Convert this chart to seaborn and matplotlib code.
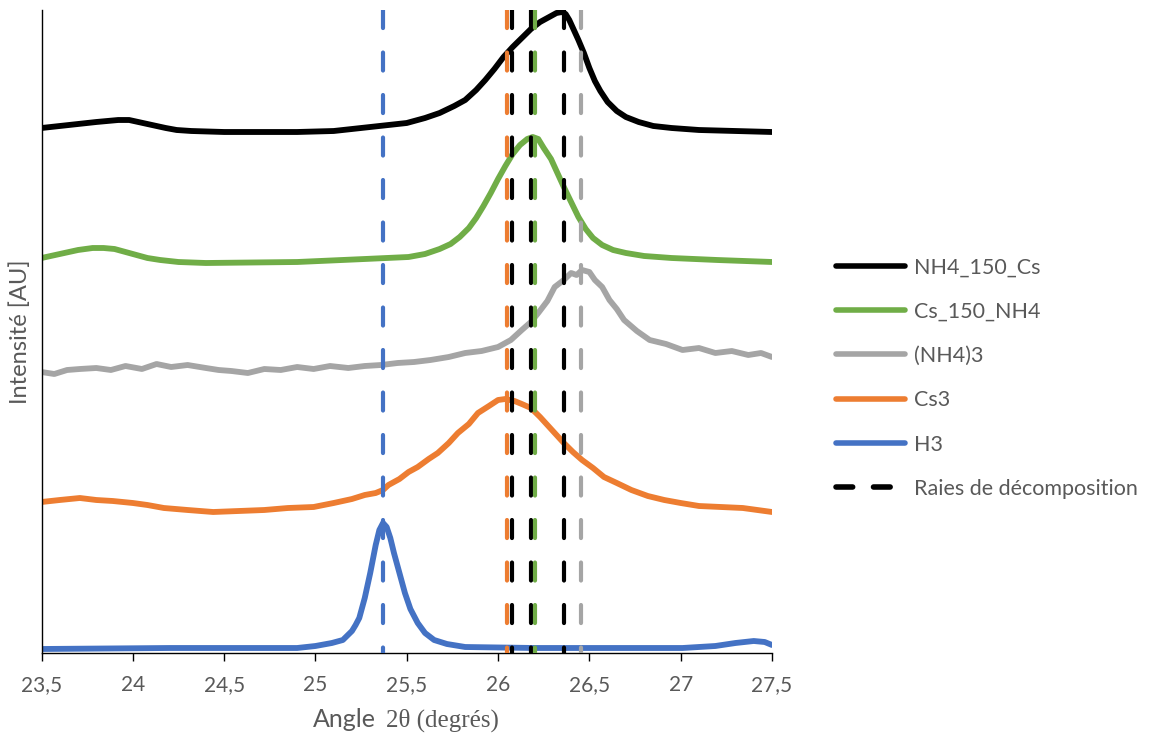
#!/usr/bin/env python3

import pandas as pd
import matplotlib.pyplot as plt
import seaborn as sns
from matplotlib.lines import Line2D

#------------------------------------------------------------------------------------
# Values (angle 2theta in degrees, intensity in arbitrary units)
#------------------------------------------------------------------------------------
ang_nh4_150_cs = [23.50, 23.65, 23.80, 23.92, 23.98, 24.03, 24.08, 24.13, 24.18, 24.24, 24.32,
                  24.50, 24.90, 25.10, 25.25, 25.40, 25.50, 25.60, 25.68, 25.76, 25.82, 25.88,
                  25.93, 25.98, 26.03, 26.08, 26.13, 26.18, 26.23, 26.28, 26.32, 26.35, 26.37,
                  26.39, 26.41, 26.44, 26.47, 26.50, 26.53, 26.56, 26.60, 26.65, 26.70, 26.77,
                  26.85, 26.95, 27.10, 27.30, 27.50]
int_nh4_150_cs = [525, 528, 531, 533, 533, 531, 529, 527, 525, 523, 522,
                  521, 521, 522, 525, 528, 530, 535, 540, 547, 553, 563,
                  573, 584, 596, 606, 615, 624, 631, 636, 640, 641, 639,
                  633, 625, 613, 600, 585, 572, 562, 551, 542, 536, 531,
                  527, 525, 523, 522, 521]

ang_cs_150_nh4 = [23.50, 23.60, 23.70, 23.78, 23.84, 23.90, 23.96, 24.02, 24.08, 24.15, 24.25,
                  24.40, 24.90, 25.27, 25.51, 25.60, 25.68, 25.74, 25.79, 25.84, 25.88, 25.92,
                  25.96, 26.00, 26.04, 26.08, 26.12, 26.16, 26.19, 26.22, 26.25, 26.29, 26.33,
                  26.36, 26.40, 26.44, 26.48, 26.52, 26.57, 26.63, 26.70, 26.80, 26.95, 27.20,
                  27.50]
int_cs_150_nh4 = [395, 399, 403, 405, 405, 404, 401, 398, 395, 393, 391,
                  390, 391, 394, 396, 399, 404, 409, 416, 425, 435, 447,
                  460, 474, 487, 499, 508, 514, 516, 514, 505, 494, 478,
                  466, 451, 436, 424, 415, 408, 403, 400, 397, 395, 393,
                  391]

ang_nh4_3 = [23.50, 23.57, 23.64, 23.71, 23.80, 23.88, 23.96, 24.05, 24.13, 24.21, 24.30,
             24.40, 24.47, 24.54, 24.63, 24.72, 24.81, 24.90, 24.99, 25.08, 25.18, 25.27,
             25.36, 25.45, 25.54, 25.63, 25.73, 25.82, 25.91, 26.00, 26.07, 26.13, 26.18,
             26.22, 26.27, 26.31, 26.36, 26.40, 26.43, 26.46, 26.50, 26.53, 26.57, 26.61,
             26.65, 26.69, 26.76, 26.83, 26.92, 27.01, 27.10, 27.19, 27.28, 27.37, 27.44, 27.50]
int_nh4_3 = [281, 279, 283, 284, 285, 283, 287, 284, 289, 286, 288,
             285, 283, 282, 280, 284, 283, 286, 284, 287, 285, 287,
             288, 290, 291, 293, 296, 300, 302, 306, 313, 323, 331,
             340, 352, 366, 373, 380, 378, 383, 381, 373, 366, 353,
             344, 333, 322, 313, 309, 303, 305, 300, 302, 298, 300, 296]

ang_cs3 = [23.50, 23.60, 23.71, 23.80, 23.89, 24.00, 24.08, 24.17, 24.30, 24.44, 24.58,
           24.72, 24.85, 24.99, 25.10, 25.20, 25.27, 25.33, 25.37, 25.40, 25.46, 25.51,
           25.56, 25.62, 25.67, 25.73, 25.78, 25.84, 25.89, 25.95, 26.00, 26.04, 26.09,
           26.13, 26.18, 26.23, 26.28, 26.32, 26.36, 26.41, 26.46, 26.52, 26.58, 26.65,
           26.73, 26.82, 26.91, 27.00, 27.10, 27.22, 27.34, 27.42, 27.50]
int_cs3 = [151, 153, 155, 153, 152, 150, 148, 145, 143, 141, 142,
           143, 145, 146, 150, 154, 158, 160, 163, 168, 174, 181,
           186, 194, 200, 210, 220, 229, 240, 247, 253, 254, 252,
           249, 245, 236, 226, 218, 210, 201, 193, 185, 176, 170,
           163, 157, 153, 150, 147, 146, 145, 143, 141]

ang_h3 = [23.50, 24.20, 24.90, 25.00, 25.09, 25.15, 25.20, 25.22, 25.24, 25.27, 25.30, 25.33,
          25.35, 25.37, 25.39, 25.41, 25.43, 25.46, 25.49, 25.52, 25.56, 25.60, 25.65,
          25.72, 25.82, 26.20, 26.60, 27.01, 27.19, 27.30, 27.40, 27.46, 27.50]
int_h3 = [4, 5, 5, 7, 10, 13, 22, 28, 35, 55, 80, 108,
          123, 130, 126, 115, 100, 80, 60, 44, 30, 20, 13,
          9, 6, 5, 5, 5, 7, 10, 12, 11, 8]

series_names = ['NH4_150_Cs', 'Cs_150_NH4', '(NH4)3', 'Cs3', 'H3']
series_colors = ['#000000', '#70AD47', '#A5A5A5', '#ED7D31', '#4472C4']

# decomposition lines: (position, colour)
raie_pos = [25.368, 26.049, 26.078, 26.179, 26.201, 26.360, 26.452]
raie_colors = ['#4472C4', '#ED7D31', '#000000', '#000000', '#70AD47', '#000000', '#A5A5A5']

xtick_vals = [23.5, 24, 24.5, 25, 25.5, 26, 26.5, 27, 27.5]
xtick_labels = ['23,5', '24', '24,5', '25', '25,5', '26', '26,5', '27', '27,5']


frames = []
for name, xs, ys in zip(series_names,
                        [ang_nh4_150_cs, ang_cs_150_nh4, ang_nh4_3, ang_cs3, ang_h3],
                        [int_nh4_150_cs, int_cs_150_nh4, int_nh4_3, int_cs3, int_h3]):
    frames.append(pd.DataFrame({'angle': xs, 'intensite': ys, 'serie': name}))
df = pd.concat(frames, ignore_index=True)

sns.set_style('ticks')
plt.rcParams['font.family'] = ['Lato', 'DejaVu Sans']
plt.rcParams['lines.scale_dashes'] = False
grey_txt = '#595959'
dash = (13.0, 17.6)

fig = plt.figure(figsize=(11.54, 7.44), dpi=100)
ax = fig.add_axes([41.5 / 1154, 1 - 653 / 744, (772 - 41.5) / 1154, (653 - 10) / 744])

sns.lineplot(data=df, x='angle', y='intensite', hue='serie', hue_order=series_names,
             palette=series_colors, estimator=None, sort=True, linewidth=4.2,
             legend=False, ax=ax, zorder=2)
for ln in ax.get_lines():
    ln.set_solid_capstyle('round')
    ln.set_solid_joinstyle('round')

for pos, col in zip(raie_pos, raie_colors):
    ax.axvline(pos, ymin=1, ymax=0, color=col, linewidth=3.0, dashes=dash,
               dash_capstyle='round', zorder=3)

ax.set_xlim(23.5, 27.5)
ax.set_ylim(0, 643)
ax.set_xticks(xtick_vals)
ax.set_xticklabels(xtick_labels)
ax.set_yticks([])
ax.tick_params(axis='x', direction='out', length=6, width=1, color='black',
               labelsize=15, labelcolor=grey_txt, pad=10)
for side in ['top', 'right']:
    ax.spines[side].set_visible(False)
for side in ['left', 'bottom']:
    ax.spines[side].set_color('black')
    ax.spines[side].set_linewidth(1.0)

ax.set_ylabel('Intensité [AU]', fontsize=17, color=grey_txt)
ax.yaxis.set_label_coords(-0.015, 0.5)
ax.set_xlabel('')
fig.text(376 / 1154, 1 - 727 / 744, 'Angle', fontsize=18, color=grey_txt,
         ha='right', va='baseline')
fig.text(386 / 1154, 1 - 727 / 744, '2θ (degrés)', fontsize=18, color=grey_txt,
         ha='left', va='baseline', family=['Liberation Serif', 'DejaVu Serif'])

handles = [Line2D([0], [0], color=c, linewidth=4.0, solid_capstyle='round')
           for c in series_colors]
handles.append(Line2D([0], [0], color='black', linewidth=4.0, dashes=(12, 15),
                      dash_capstyle='round'))
labels = series_names + ['Raies de décomposition']
leg = fig.legend(handles, labels, loc='upper left', bbox_to_anchor=(817 / 1154, 1 - 238 / 744),
                 frameon=False, fontsize=15.5, handlelength=3.2, handletextpad=0.42,
                 labelspacing=1.13, labelcolor=grey_txt)

plt.savefig('out.png', dpi=100)
